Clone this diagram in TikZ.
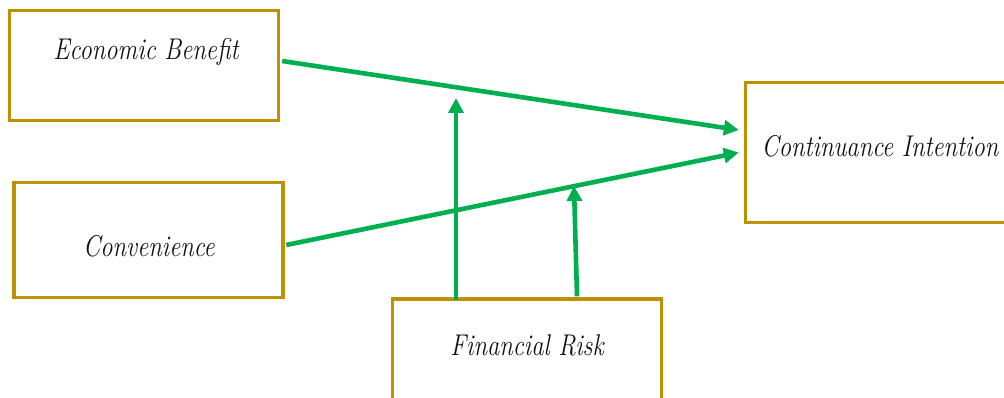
\documentclass[tikz,border=0pt]{standalone}
\usepackage{tikz}
\usetikzlibrary{arrows.meta,positioning,calc}
\definecolor{gold}{HTML}{BF9000}
\definecolor{grn}{HTML}{00B050}
\definecolor{ink}{HTML}{111111}
\tikzset{
  box/.style={draw=gold,line width=3.4pt,fill=white,inner sep=0pt,minimum width=269pt},
  lbl/.style={font=\fontsize{30}{34}\selectfont\itshape,text=ink,inner sep=0pt,xscale=.82,transform shape},
  ar/.style={-{Triangle[length=15pt,width=15pt]},draw=grn,line width=4.6pt},
}
\begin{document}
\begin{tikzpicture}[x=1pt,y=-1pt]
  \useasboundingbox (0,0) rectangle (1004,398);
  \node[box,minimum height=110pt] (eb) at (144,65.5) {};
  \node[box,minimum height=115pt] (conv) at (148.5,240) {};
  \node[box,minimum height=115pt] (fr) at (527,356.5) {};
  \node[box,minimum height=140pt] (ci) at (880,152.5) {};

  \node[lbl] (ebt) at (146,52) {Economic Benefit};
  \node[lbl] (convt) at (149,246) {Convenience};
  \node[lbl] (frt) at (527,345) {Financial Risk};
  \node[lbl] (cit) at (880,146) {Continuance Intention};

  \coordinate (m1) at (456,98);
  \coordinate (m2) at (574,186);

  \draw[ar] ([xshift=2pt,yshift=4.5pt]eb.east) -- ([xshift=-5pt,yshift=22.5pt]ci.west);
  \draw[ar] ([xshift=1.5pt,yshift=-5pt]conv.east) -- ([xshift=-5pt]ci.west);
  \draw[ar] ([xshift=-71pt,yshift=-3pt]fr.north) -- (m1);
  \draw[ar] ([xshift=50pt,yshift=1pt]fr.north) -- (m2);
\end{tikzpicture}
\end{document}
